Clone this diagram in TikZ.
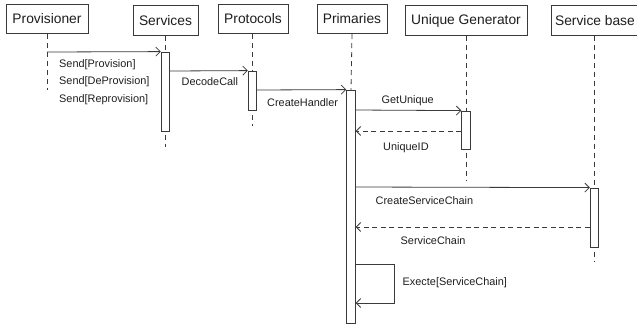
\documentclass[tikz,border=0pt]{standalone}
\usepackage{fontspec}
\setmainfont{Liberation Sans}
\usetikzlibrary{arrows.meta}
\definecolor{ln}{HTML}{3A3A3A}
\definecolor{tx}{HTML}{1E1E1E}
\tikzset{
  actor/.style={draw=ln, line width=0.9pt, fill=white, inner sep=0pt, minimum height=29.5pt, text=tx, font=\fontsize{13.8}{15}\selectfont},
  act/.style={draw=ln, line width=0.8pt, fill=white, inner sep=0pt, minimum width=8.5pt},
  life/.style={draw=ln, line width=0.8pt, dash pattern=on 5pt off 4pt},
  msg/.style={draw=ln, line width=0.8pt, -{Straight Barb[length=4.5pt,width=9pt]}},
  ret/.style={msg, dash pattern=on 5pt off 3.5pt},
  lab/.style={anchor=west, inner sep=0pt, text=tx, font=\fontsize{10.9}{12}\selectfont}
}
\begin{document}
\begin{tikzpicture}[x=1pt,y=-1pt]
\useasboundingbox (0,0) rectangle (637,325);
% actors
\node[actor, minimum width=82pt] (prov) at (47,19) {Provisioner};
\node[actor, minimum width=65pt] (serv) at (165.5,20.5) {Services};
\node[actor, minimum width=70pt] (prot) at (253,19) {Protocols};
\node[actor, minimum width=70pt] (prim) at (352,19) {Primaries};
\node[actor, minimum width=122pt] (ugen) at (466,20.5) {Unique Generator};
\node[actor, minimum width=88pt, anchor=west] (sbase) at (551,20.5) {\hspace*{-1pt}Service base};
% lifeline ends
\coordinate (provE) at (47,90);
\coordinate (servE) at (165.5,147);
\coordinate (protE) at (252.5,126);
\coordinate (ugenE) at (466,180);
\coordinate (sbaseE) at (594.5,262);
\draw[life] (prov.south) -- (provE);
\draw[life] (serv.south) -- (servE);
\draw[life] (prot.south -| protE) -- (protE);
\draw[life] (prim.south) -- (351,90);
\draw[life] (ugen.south) -- (ugenE);
\draw[life] (sbase.south -| sbaseE) -- (sbaseE);
% activations
\node[act, minimum height=79pt] (servA) at (165.5,91.5) {};
\node[act, minimum height=39pt] (protA) at (252.5,90.5) {};
\node[act, minimum height=233pt] (primA) at (351,206.5) {};
\node[act, minimum height=38pt] (ugenA) at (466,130) {};
\node[act, minimum height=59pt] (sbaseA) at (594.5,217.5) {};
% messages
\coordinate (m1) at (47,52);
\draw[msg] (m1) -- (servA.north west);
\draw[msg] (servA.east |- 0,71) -- (protA.north west);
\draw[msg] (protA.east |- 0,90) -- (primA.north west);
\draw[msg] (primA.east |- 0,110) -- (ugenA.north west);
\draw[ret] (ugenA.west |- 0,131) -- (primA.east |- 0,131);
\draw[msg] (primA.east |- 0,187) -- (sbaseA.north west);
\draw[ret] (sbaseA.west |- 0,227) -- (primA.east |- 0,227);
\coordinate (loopA) at (394.5,264);
\coordinate (loopB) at (394.5,303);
\draw[msg] (primA.east |- loopA) -- (loopA) -- (loopB) -- (primA.east |- loopB);
% labels
\node[lab] (l1) at (59,65) {Send[Provision]};
\node[lab] (l2) at (59,82) {Send[DeProvision]};
\node[lab] (l3) at (59,100) {Send[Reprovision]};
\node[lab] (l4) at (181.5,82) {DecodeCall};
\node[lab] (l5) at (267,103) {CreateHandler};
\node[lab] (l6) at (381.5,101) {GetUnique};
\node[lab] (l7) at (383,148) {UniqueID};
\node[lab] (l8) at (375.5,201) {CreateServiceChain};
\node[lab] (l9) at (400.5,241) {ServiceChain};
\node[lab] (l10) at (402.5,283) {Execte[ServiceChain]};
\end{tikzpicture}
\end{document}
